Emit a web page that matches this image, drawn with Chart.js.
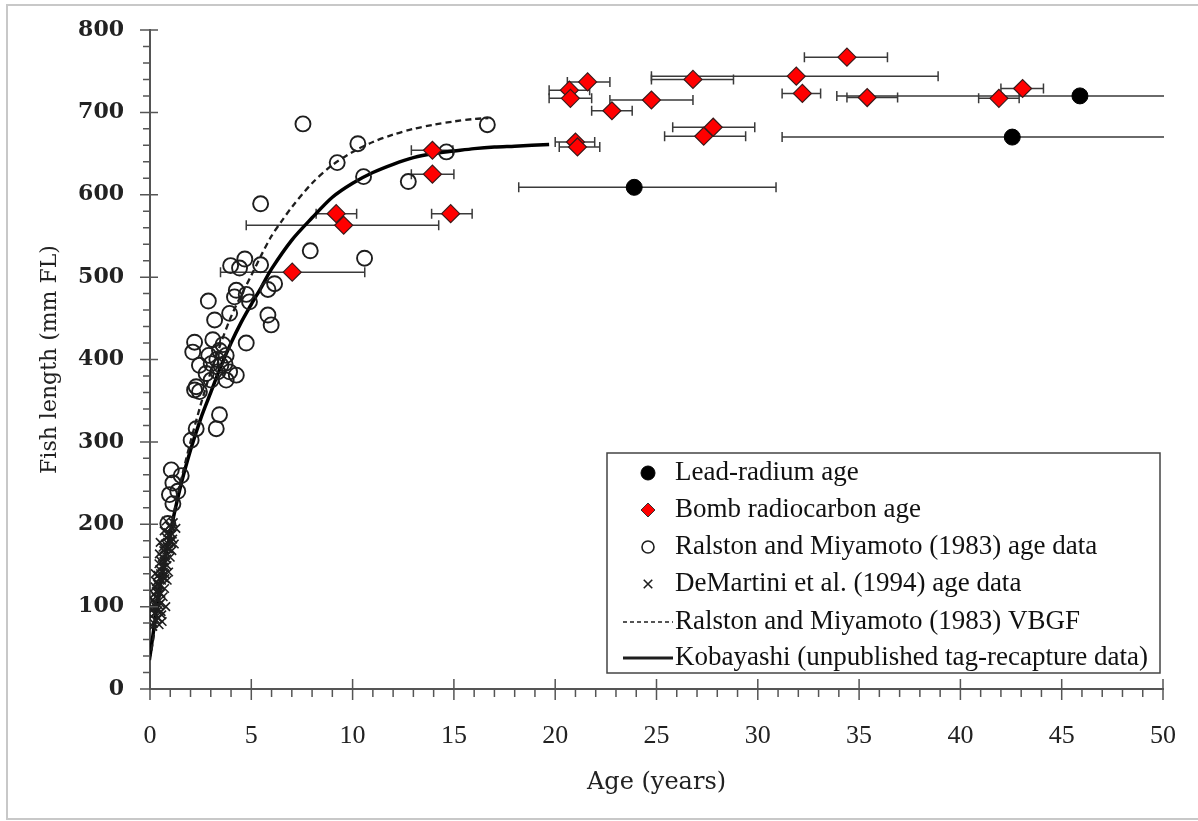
<!DOCTYPE html>
<html lang="en">
<head>
<meta charset="UTF-8">
<title>Fish length at age</title>
<script src="https://cdn.jsdelivr.net/npm/chart.js"></script>
<style>
  html, body { margin: 0; padding: 0; background: #fff; }
  #wrap { position: relative; width: 1198px; height: 821px; }
</style>
</head>
<body>
<div id="wrap"><canvas id="fishChart" width="1198" height="821"></canvas></div>
<script>
// values (age in years, length in mm FL)
const xTicks = [0, 5, 10, 15, 20, 25, 30, 35, 40, 45, 50];
const yTicks = [0, 100, 200, 300, 400, 500, 600, 700, 800];

// lead-radium ages with age ranges
const leadAge = [23.9, 42.56, 45.9];
const leadLen = [609, 670, 720];
const leadLo  = [18.2, 31.2, 33.9];
const leadHi  = [30.9, 51, 51];

// bomb radiocarbon ages with age ranges
const bombAge = [34.4, 26.8, 31.9, 21.6, 20.7, 20.75, 24.75, 22.8, 32.2, 35.4, 41.9, 43.07, 27.8, 27.33, 21.0, 21.1, 13.94, 13.94, 14.84, 9.19, 9.56, 7.02];
const bombLen = [767, 740, 744, 737, 727, 717, 715, 702, 723, 718, 717, 729, 682, 671, 664, 658, 654, 625, 577, 577, 563, 506];
const bombLo  = [32.3, 24.75, 24.75, 20.6, 19.7, 19.7, 22.7, 21.8, 31.2, 34.4, 40.9, 42.0, 25.8, 25.4, 20.0, 20.2, 12.9, 12.9, 13.9, 8.2, 4.75, 3.48];
const bombHi  = [36.4, 28.8, 38.9, 22.7, 21.7, 21.8, 26.8, 23.8, 33.1, 36.9, 42.9, 44.1, 29.85, 29.4, 21.95, 22.2, 14.95, 15.0, 15.9, 10.2, 14.25, 10.6];

// Ralston and Miyamoto (1983) age data
const rmAge = [7.55, 10.26, 9.24, 16.65, 14.63, 10.54, 12.75, 5.46, 7.91, 10.59,
  3.98, 4.68, 4.42, 5.46, 6.15, 5.82, 2.88, 4.26, 4.75, 4.17, 4.91,
  5.82, 5.98, 3.19, 3.93, 4.75, 2.2, 2.11, 3.1, 3.43, 3.76, 2.44, 3.02, 3.5, 2.77, 3.35, 3.93, 4.26, 3.76, 3.02, 2.28,
  2.2, 2.44, 3.43, 3.27, 2.28, 2.03, 1.05, 1.54, 1.13, 1.37, 1.13, 0.96, 0.88, 3.6, 3.3, 3.7, 2.9];
const rmLen = [686, 662, 639, 685, 652, 622, 616, 589, 532, 523,
  514, 522, 511, 515, 492, 485, 471, 484, 479, 476, 470,
  454, 442, 448, 456, 420, 421, 409, 424, 411, 405, 393, 395, 393, 383, 385, 385, 381, 375, 375, 367,
  363, 361, 333, 316, 316, 302, 266, 259, 250, 240, 225, 236, 201, 418, 400, 395, 405];

// DeMartini et al. (1994) age data
const dmAge = [0.08, 0.12, 0.15, 0.18, 0.2, 0.22, 0.25, 0.28, 0.3, 0.32, 0.35, 0.38, 0.4, 0.42, 0.45, 0.48, 0.5, 0.52, 0.55, 0.58,
  0.6, 0.62, 0.65, 0.68, 0.7, 0.72, 0.75, 0.78, 0.8, 0.82, 0.85, 0.88, 0.9, 0.92, 0.95, 0.98, 1.0, 1.05, 1.1, 1.15,
  1.2, 1.28, 0.14, 0.26, 0.34, 0.44, 0.54, 0.64, 0.74, 0.84, 0.94, 0.3, 0.46, 0.6, 0.7, 0.36, 0.5, 0.66, 0.8, 0.96,
  0.24, 0.33, 0.41, 0.52, 0.57, 0.69, 0.77, 0.86, 1.02, 1.12, 0.18, 0.28, 0.39, 0.47, 0.63, 0.73, 0.9, 1.08, 0.55, 0.42];
const dmLen = [88, 96, 108, 80, 115, 92, 124, 100, 84, 130, 110, 95, 138, 118, 78, 145, 126, 104, 155, 90,
  160, 136, 112, 168, 148, 122, 176, 100, 184, 158, 132, 190, 170, 142, 198, 180, 160, 196, 188, 202,
  176, 195, 76, 140, 98, 152, 116, 172, 134, 150, 186, 118, 164, 82, 192, 128, 178, 142, 204, 170,
  104, 118, 126, 140, 132, 155, 162, 172, 178, 182, 98, 112, 86, 134, 150, 140, 176, 168, 94, 102];

// Ralston and Miyamoto (1983) VBGF, traced
const vbAge = [0, 0.5, 1, 1.5, 2, 2.5, 3, 3.5, 4, 4.5, 5, 5.5, 6, 6.5, 7, 8, 9, 10, 11, 12, 13, 14, 15, 16, 16.7];
const vbLen = [35, 115, 190, 250, 300, 345, 385, 420, 452, 478, 502, 527, 550, 568, 585, 614, 636, 652, 664, 673, 680, 685, 689, 692, 693];

// Kobayashi tag-recapture curve, traced
const kbAge = [0, 0.5, 1, 1.5, 2, 2.5, 3, 3.5, 4, 4.5, 5, 5.5, 6, 7, 8, 9, 10, 11, 12, 13, 14, 15, 16, 17, 18, 19.7];
const kbLen = [40, 125, 190, 245, 290, 328, 360, 392, 420, 445, 467, 488, 510, 545, 572, 597, 614, 627, 637, 645, 650, 653, 656, 658, 659, 661];

const pts = (xs, ys) => xs.map((v, i) => ({ x: v, y: ys[i] }));

const RED = '#ff0000';
const INK = '#1e1e1e';
const AXIS = '#555555';

const frame = {
  id: 'frame',
  beforeDraw(chart) {
    const ctx = chart.ctx;
    ctx.save();
    ctx.fillStyle = '#fff';
    ctx.fillRect(0, 0, chart.width, chart.height);
    ctx.strokeStyle = '#c8c8c8';
    ctx.lineWidth = 2;
    ctx.strokeRect(7, 5, 1200, 814);
    ctx.restore();
  }
};

const errorBars = {
  id: 'errorBars',
  beforeDatasetsDraw(chart) {
    const { ctx, chartArea: a, scales: { x, y } } = chart;
    ctx.save();
    ctx.beginPath();
    ctx.rect(a.left, a.top - 10, a.right - a.left + 1, a.bottom - a.top + 10);
    ctx.clip();
    ctx.strokeStyle = '#3a3a3a';
    ctx.lineWidth = 1.5;
    const bar = (lo, hi, v) => {
      const py = y.getPixelForValue(v);
      const x0 = x.getPixelForValue(lo), x1 = x.getPixelForValue(hi);
      ctx.beginPath();
      ctx.moveTo(x0, py); ctx.lineTo(x1, py);
      ctx.moveTo(x0, py - 5); ctx.lineTo(x0, py + 5);
      ctx.moveTo(x1, py - 5); ctx.lineTo(x1, py + 5);
      ctx.stroke();
    };
    leadAge.forEach((_, i) => bar(leadLo[i], leadHi[i], leadLen[i]));
    bombAge.forEach((_, i) => bar(bombLo[i], bombHi[i], bombLen[i]));
    ctx.restore();
  }
};

// minor and major tick marks, drawn over the axes
const axisTicks = {
  id: 'axisTicks',
  afterDraw(chart) {
    const { ctx, chartArea: a, scales: { x, y } } = chart;
    ctx.save();
    ctx.strokeStyle = AXIS;
    ctx.lineWidth = 1.5;
    ctx.beginPath();
    for (let v = 0; v <= 50; v++) {
      const px = x.getPixelForValue(v);
      if (v % 5 === 0) { ctx.moveTo(px, a.bottom - 10); ctx.lineTo(px, a.bottom + 11); }
      else { ctx.moveTo(px, a.bottom); ctx.lineTo(px, a.bottom + 8); }
    }
    for (let v = 0; v <= 800; v += 20) {
      const py = y.getPixelForValue(v);
      if (v % 100 === 0) { ctx.moveTo(a.left - 10, py); ctx.lineTo(a.left + 8, py); }
      else { ctx.moveTo(a.left - 7, py); ctx.lineTo(a.left, py); }
    }
    ctx.stroke();
    ctx.restore();
  }
};

const boxLegend = {
  id: 'boxLegend',
  afterDraw(chart) {
    const ctx = chart.ctx;
    const left = 607, top = 453, right = 1160, bottom = 673;
    ctx.save();
    ctx.fillStyle = '#fff';
    ctx.fillRect(left, top, right - left, bottom - top);
    ctx.strokeStyle = '#444';
    ctx.lineWidth = 1.5;
    ctx.strokeRect(left, top, right - left, bottom - top);

    const rows = [
      { label: 'Lead-radium age', point: { pointStyle: 'circle', radius: 7, fill: '#000', stroke: '#000', width: 1 } },
      { label: 'Bomb radiocarbon age', point: { pointStyle: 'rectRot', radius: 7, fill: RED, stroke: '#333', width: 1 } },
      { label: 'Ralston and Miyamoto (1983) age data', point: { pointStyle: 'circle', radius: 6, fill: 'rgba(0,0,0,0)', stroke: INK, width: 1.6 } },
      { label: 'DeMartini et al. (1994) age data', point: { pointStyle: 'crossRot', radius: 6, fill: INK, stroke: INK, width: 1.6 } },
      { label: 'Ralston and Miyamoto (1983) VBGF', line: { dash: [4, 3], width: 1.5 } },
      { label: 'Kobayashi (unpublished tag-recapture data)', line: { dash: [], width: 3 } }
    ];
    const rowY = [473, 510, 547, 584, 622, 658];
    rows.forEach((r, i) => {
      const yy = rowY[i];
      if (r.point) {
        const p = r.point;
        ctx.fillStyle = p.fill;
        ctx.strokeStyle = p.stroke;
        ctx.lineWidth = p.width;
        Chart.helpers.drawPoint(ctx, { pointStyle: p.pointStyle, radius: p.radius, rotation: 0, borderWidth: p.width }, 648, yy);
      } else {
        ctx.beginPath();
        ctx.setLineDash(r.line.dash);
        ctx.lineWidth = r.line.width;
        ctx.strokeStyle = INK;
        ctx.moveTo(623, yy); ctx.lineTo(673, yy);
        ctx.stroke();
        ctx.setLineDash([]);
      }
      ctx.font = '27px "Liberation Serif"';
      ctx.textBaseline = 'middle';
      ctx.textAlign = 'left';
      ctx.fillStyle = '#111';
      ctx.fillText(r.label, 675, yy);
    });
    ctx.restore();
  }
};

const ctx = document.getElementById('fishChart').getContext('2d');
const fishChart = new Chart(ctx, {
  type: 'scatter',
  data: {
    datasets: [
      {
        label: 'Lead-radium age',
        data: pts(leadAge, leadLen),
        pointStyle: 'circle', pointRadius: 8,
        backgroundColor: '#000', borderColor: '#000', borderWidth: 1
      },
      {
        label: 'Bomb radiocarbon age',
        data: pts(bombAge, bombLen),
        pointStyle: 'rectRot', pointRadius: 9,
        backgroundColor: RED, borderColor: '#3a1a1a', borderWidth: 1.2
      },
      {
        label: 'Ralston and Miyamoto (1983) age data',
        data: pts(rmAge, rmLen),
        pointStyle: 'circle', pointRadius: 7.5,
        backgroundColor: 'rgba(0,0,0,0)', borderColor: INK, borderWidth: 1.9
      },
      {
        label: 'DeMartini et al. (1994) age data',
        data: pts(dmAge, dmLen),
        pointStyle: 'crossRot', pointRadius: 6,
        backgroundColor: INK, borderColor: INK, borderWidth: 1.6
      },
      {
        label: 'Ralston and Miyamoto (1983) VBGF',
        data: pts(vbAge, vbLen),
        showLine: true, pointRadius: 0, tension: 0.3,
        borderColor: INK, borderWidth: 2.3, borderDash: [6, 4]
      },
      {
        label: 'Kobayashi (unpublished tag-recapture data)',
        data: pts(kbAge, kbLen),
        showLine: true, pointRadius: 0, tension: 0.3,
        borderColor: '#000', borderWidth: 3.5
      }
    ]
  },
  options: {
    responsive: false,
    animation: false,
    devicePixelRatio: 1,
    layout: { padding: { left: 0, right: 35, top: 30, bottom: 0 } },
    plugins: {
      legend: { display: false },
      tooltip: { enabled: false }
    },
    scales: {
      x: {
        type: 'linear', min: 0, max: 50,
        afterBuildTicks: s => { s.ticks = xTicks.map(v => ({ value: v })); },
        afterFit: s => { s.height = 132; },
        // invisible tick length keeps the label gap without padding the chart area
        grid: { display: true, drawOnChartArea: false, drawTicks: true, tickLength: 28, tickColor: 'rgba(0,0,0,0)' },
        border: { display: true, color: AXIS, width: 2 },
        ticks: { padding: 4, color: '#222', font: { family: 'Liberation Serif', size: 26 } },
        title: {
          display: true, text: 'Age (years)', color: '#222',
          font: { family: 'DejaVu Serif', size: 24 }, padding: { top: 0, bottom: 24 }
        }
      },
      y: {
        type: 'linear', min: 0, max: 800,
        afterBuildTicks: s => { s.ticks = yTicks.map(v => ({ value: v })); },
        afterFit: s => { s.width = 150; },
        grid: { display: true, drawOnChartArea: false, drawTicks: true, tickLength: 22, tickColor: 'rgba(0,0,0,0)' },
        border: { display: true, color: AXIS, width: 2 },
        ticks: { padding: 4, color: '#222', font: { family: 'DejaVu Serif', size: 22, weight: 'bold' } },
        title: {
          display: true, text: 'Fish length (mm FL)', color: '#222',
          font: { family: 'DejaVu Serif', size: 22 }, padding: { top: 37, bottom: 0 }
        }
      }
    }
  },
  plugins: [frame, errorBars, axisTicks, boxLegend]
});
</script>
</body>
</html>
